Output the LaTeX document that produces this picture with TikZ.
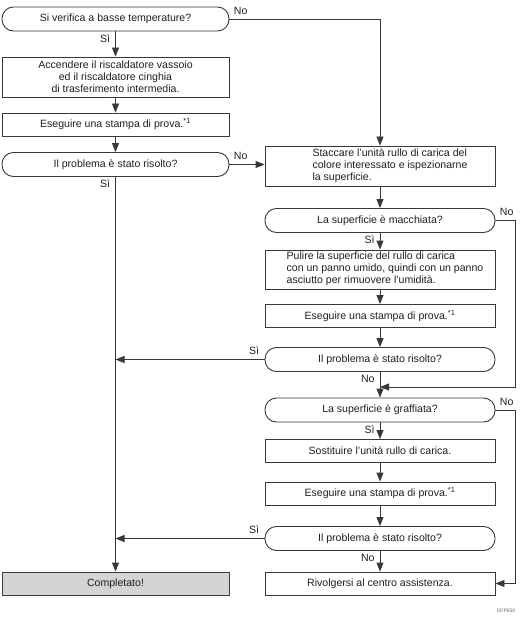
\documentclass[tikz,border=0pt]{standalone}
\usepackage{fontspec}
\setmainfont{Liberation Sans}
\usetikzlibrary{arrows.meta}
\begin{document}
\begin{tikzpicture}[x=1bp,y=-1bp,
  every node/.style={font=\fontsize{10.6}{12}\selectfont, text=black!88},
  flow/.style={draw=black!78, line width=0.9bp},
  stepbox/.style={flow, rectangle, minimum height=23bp, inner sep=0pt},
  lbox/.style={stepbox, minimum width=227bp},
  rbox/.style={stepbox, minimum width=230bp},
  decision/.style={flow, rectangle, rounded corners=11.5bp, minimum height=24bp, inner sep=0pt},
  ldec/.style={decision, minimum width=227bp},
  rdec/.style={decision, minimum width=230bp},
  arr/.style={draw=black!78, line width=0.9bp, -{Triangle[length=9bp,width=7bp]}},
  lab/.style={inner sep=1bp},
  vlab/.style={lab, at start, anchor=north east, xshift=-4bp, yshift=-1.5bp},
  hlabr/.style={lab, at start, anchor=south west, xshift=3bp, yshift=3bp},
  hlabl/.style={lab, at start, anchor=south east, xshift=-4bp, yshift=3bp}
]
\useasboundingbox (0,0) rectangle (523,618);

% left column
\node[ldec] (d1) at (115.5,19) {Si verifica a basse temperature?};
\node[lbox, minimum height=40bp, align=center] (b2) at (115.5,77) {Accendere il riscaldatore vassoio\\ed il riscaldatore cinghia\\di trasferimento intermedia.};
\node[lbox] (b3) at (115.5,124.5) {Eseguire una stampa di prova.\textsuperscript{*1}};
\node[ldec] (d4) at (115.5,164.5) {Il problema è stato risolto?};
\node[lbox, fill=black!17] (fin) at (115.5,583.5) {Completato!};

% right column
\node[rbox, minimum height=40bp] (s1) at (380,166) {\hspace*{20bp}\begin{tabular}{@{}l@{}}Staccare l'unità rullo di carica del\\colore interessato e ispezionarne\\la superficie.\end{tabular}};
\node[rdec] (d5) at (380,220.5) {La superficie è macchiata?};
\node[rbox, minimum height=39bp] (p1) at (380,269.5) {\hspace*{10bp}\begin{tabular}{@{}l@{}}Pulire la superficie del rullo di carica\\con un panno umido, quindi con un panno\\asciutto per rimuovere l'umidità.\end{tabular}};
\node[rbox] (e1) at (380,316) {Eseguire una stampa di prova.\textsuperscript{*1}};
\node[rdec] (d6) at (380,359.5) {Il problema è stato risolto?};
\coordinate (m1) at (380,387);
\node[rdec] (d7) at (380,410) {La superficie è graffiata?};
\node[rbox] (s2) at (380,451) {Sostituire l'unità rullo di carica.};
\node[rbox] (e2) at (380,493.5) {Eseguire una stampa di prova.\textsuperscript{*1}};
\node[rdec] (d8) at (380,538.5) {Il problema è stato risolto?};
\node[rbox] (r1) at (380,583.5) {Rivolgersi al centro assistenza.};

\node[font=\fontsize{5}{6}\selectfont, text=black!60] (code) at (506,611) {DFP650};

% connectors left
\draw[arr] (d1.south) -- node[vlab] {Sì} (b2.north);
\draw[arr] (b2.south) -- (b3.north);
\draw[arr] (b3.south) -- (d4.north);
\draw[arr] (d4.south) -- node[vlab] {Sì} (fin.north);
\draw[arr] (d1.east) -- node[hlabr] {No} (d1.east -| s1.north) -- (s1.north);
\draw[arr] (d4.east) -- node[hlabr] {No} (d4.east -| s1.west);

% connectors right
\draw[arr] (s1.south) -- (d5.north);
\draw[arr] (d5.south) -- node[vlab] {Sì} (p1.north);
\draw[arr] (d5.east) -- node[hlabr] {No} ++(20,0) |- (m1);
\draw[arr] (p1.south) -- (e1.north);
\draw[arr] (e1.south) -- (d6.north);
\draw[arr] (d6.west) -- node[hlabl] {Sì} (d6.west -| fin.north);
\draw[arr] (d6.south) -- node[vlab] {No} (d7.north);
\draw[arr] (d7.south) -- node[vlab] {Sì} (s2.north);
\draw[arr] (d7.east) -- node[hlabr] {No} ++(20,0) |- (r1.east);
\draw[arr] (s2.south) -- (e2.north);
\draw[arr] (e2.south) -- (d8.north);
\draw[arr] (d8.west) -- node[hlabl] {Sì} (d8.west -| fin.north);
\draw[arr] (d8.south) -- node[vlab] {No} (r1.north);
\end{tikzpicture}
\end{document}
